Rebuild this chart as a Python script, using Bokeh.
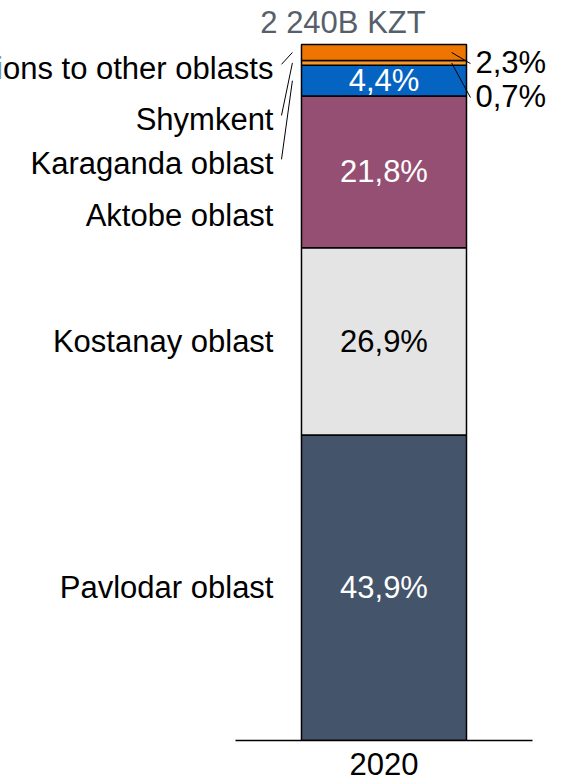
from bokeh.plotting import figure
from bokeh.models import ColumnDataSource, Range1d, FixedTicker
from bokeh.core.properties import value
from bokeh.embed import file_html
from bokeh.resources import INLINE

# ---------------- data ----------------
year = "2020"
total_label = "2 240B KZT"
regions = ["Pavlodar oblast", "Kostanay oblast", "Aktobe oblast",
           "Karaganda oblast", "Shymkent", "Transmissions to other oblasts"]
shares = [43.9, 26.9, 21.8, 4.4, 0.7, 2.3]
colors = ["#44546A", "#E4E4E4", "#954F72", "#0563C1", "#F7962B", "#EE7600"]
value_colors = ["white", "black", "white", "white", "black", "black"]

# ---------------- derived ----------------
FONT = value("Liberation Sans")
FS = "31px"
bar_x = 0
bar_w = 1.0
bottoms, tops, centers = [], [], []
acc = 0.0
for s in shares:
    bottoms.append(acc)
    acc += s
    tops.append(acc)
    centers.append(acc - s / 2)
total = acc
fmt = [f"{s:.1f}".replace(".", ",") + "%" for s in shares]

src = ColumnDataSource(dict(x=[bar_x] * len(shares), bottom=bottoms, top=tops,
                            color=colors, center=centers, txt=fmt,
                            tcolor=value_colors, region=regions))

p = figure(width=565, height=782, output_backend="svg", toolbar_location=None,
           x_range=Range1d(-2.324, 1.100), y_range=Range1d(0, 106.32),
           y_axis_location=None, min_border_left=0, min_border_right=0,
           min_border_top=0, min_border_bottom=42)
p.outline_line_color = None
p.xgrid.grid_line_color = None
p.ygrid.grid_line_color = None
p.background_fill_color = "white"
p.border_fill_color = "white"

p.vbar(x="x", width=bar_w, bottom="bottom", top="top", fill_color="color",
       line_color="black", line_width=1.5, source=src)

# values inside the bar (large segments)
big = [i for i, s in enumerate(shares) if s >= 4]
p.text(x=[bar_x] * len(big), y=[centers[i] for i in big], text=[fmt[i] for i in big],
       text_color=[value_colors[i] for i in big], text_font=FONT, text_font_size=FS,
       text_align="center", text_baseline="middle")

# left labels (layout positions in data units)
left_label_y = list(centers)
left_label_y[2] = 75.4
left_label_y[3] = 82.9
left_label_y[4] = 89.2
left_label_y[5] = 96.55
left_x = bar_x - bar_w / 2
p.text(x=[left_x] * len(regions), y=left_label_y, text=regions, x_offset=-28,
       text_color="black", text_font=FONT, text_font_size=FS,
       text_align="right", text_baseline="middle")

# left leader lines for the small segments
small_left = [3, 4, 5]
p.segment(x0=[left_x - 0.121] * 3, y0=[left_label_y[i] + 0.6 for i in small_left],
          x1=[left_x - 0.055] * 3, y1=[centers[i] for i in small_left],
          line_color="black", line_width=1)

# right labels for the tiniest segments
small_right = [5, 4]
right_label_y = [97.41, 92.53]
right_x = bar_x + bar_w / 2
p.text(x=[right_x] * 2, y=right_label_y, text=[fmt[i] for i in small_right], x_offset=9,
       text_color="black", text_font=FONT, text_font_size=FS,
       text_align="left", text_baseline="middle")
p.segment(x0=[right_x - 0.09] * 2, y0=[centers[i] for i in small_right],
          x1=[right_x + 0.024] * 2, y1=[y - 0.15 for y in right_label_y],
          line_color="black", line_width=1)

# total on top
p.text(x=[bar_x], y=[total], text=[total_label], x_offset=-41, y_offset=-22,
       text_color="#56606A", text_font=FONT, text_font_size=FS,
       text_align="center", text_baseline="middle")

# x axis
ax = p.xaxis[0]
ax.ticker = FixedTicker(ticks=[bar_x])
ax.major_label_overrides = {bar_x: year}
ax.bounds = (-0.9, 0.9)
ax.axis_line_color = "black"
ax.axis_line_width = 1.5
ax.major_tick_line_color = None
ax.minor_tick_line_color = None
ax.major_tick_out = 0
ax.major_tick_in = 0
ax.major_label_standoff = 12
ax.major_label_text_font = "Liberation Sans"
ax.major_label_text_font_size = FS
ax.major_label_text_color = "black"

open("out.html", "w").write(file_html(p, INLINE))
